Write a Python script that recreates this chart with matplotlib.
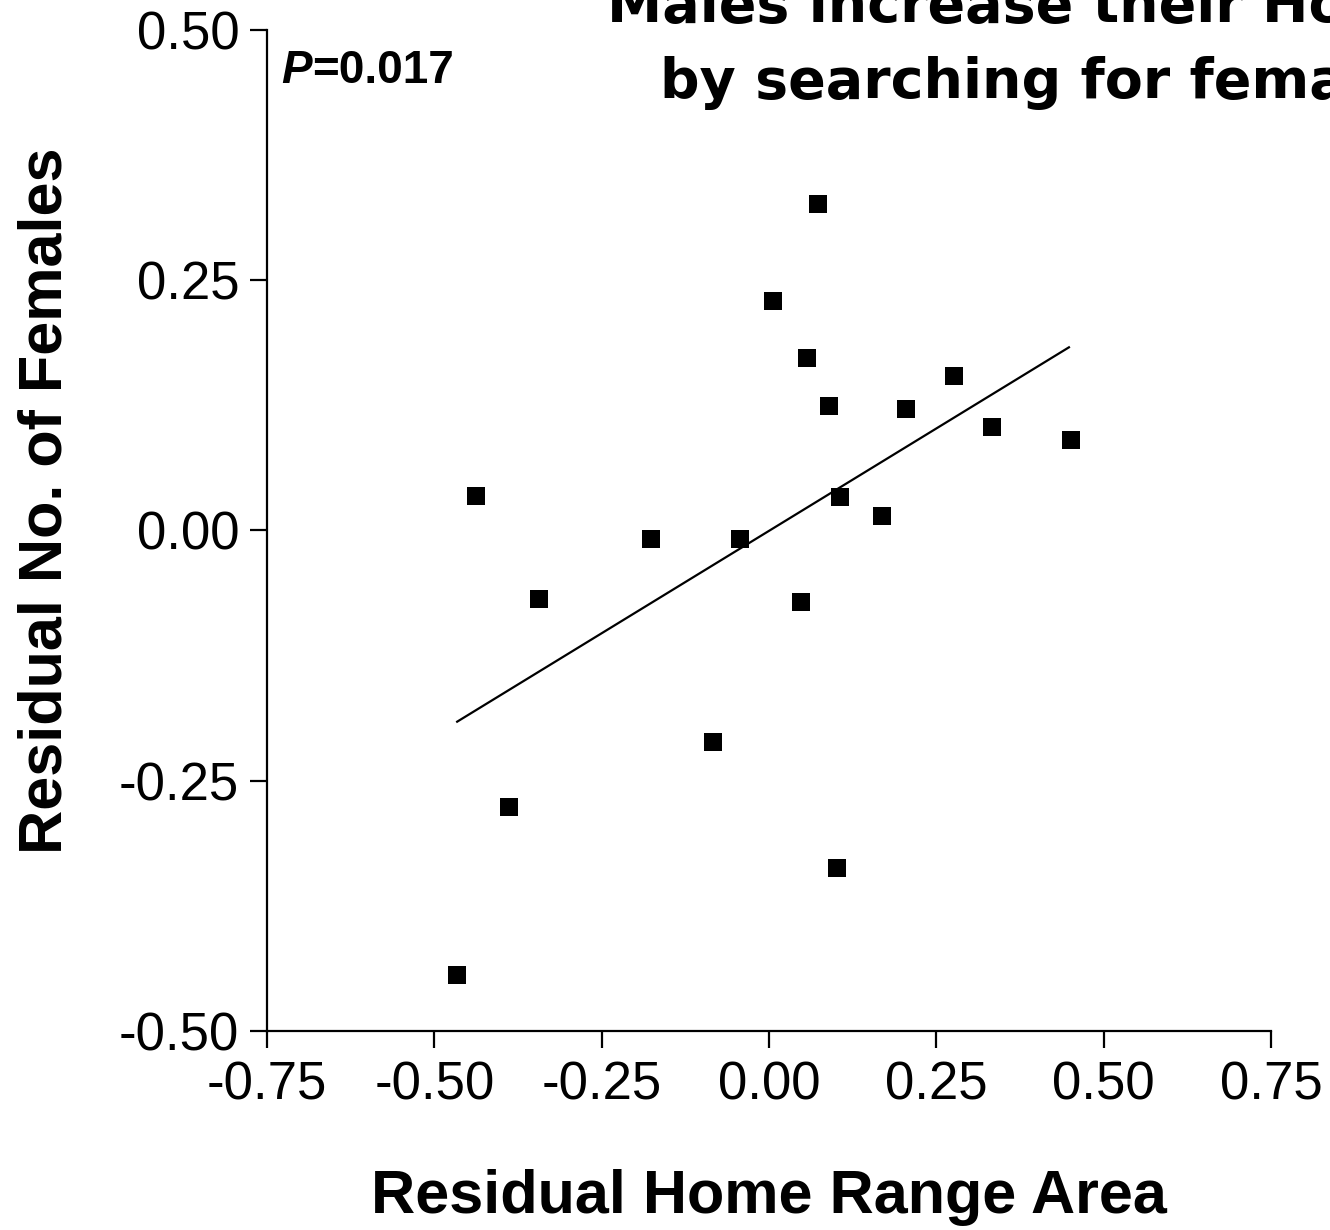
#!/usr/bin/env python3

""" Residual number of females against residual home range area """

import matplotlib
matplotlib.use('Agg')
import matplotlib.pyplot as plt

# Residuals per male
homeRange = [-0.438, -0.344, -0.388, -0.466, -0.176, -0.043, -0.084,
             0.006, 0.073, 0.057, 0.090, 0.048, 0.106, 0.102,
             0.169, 0.205, 0.276, 0.333, 0.451]
nFemales = [0.034, -0.068, -0.276, -0.444, -0.008, -0.008, -0.211,
            0.229, 0.326, 0.172, 0.124, -0.071, 0.033, -0.337,
            0.014, 0.121, 0.154, 0.103, 0.090]

# Fitted regression line
fitX = [-0.466, 0.448]
fitY = [-0.191, 0.183]

xTicks = [-0.75, -0.50, -0.25, 0.00, 0.25, 0.50, 0.75]
yTicks = [-0.50, -0.25, 0.00, 0.25, 0.50]
pLabel = '0.017'


def plotResiduals(out='out.png', dpi=100):
    plt.rcParams.update({'font.family': ['Liberation Sans', 'DejaVu Sans']})
    fig = plt.figure(figsize=(13.3, 12.3))
    ax = fig.add_axes([0.2008, 0.1618, 0.7549, 0.8138])

    ax.plot(homeRange, nFemales, 's', color='black', markersize=13,
            markeredgewidth=0, clip_on=False)
    ax.plot(fitX, fitY, '-', color='black', linewidth=1.6)

    ax.set_xlim(-0.75, 0.75)
    ax.set_ylim(-0.5, 0.5)
    ax.set_xticks(xTicks)
    ax.set_yticks(yTicks)
    ax.set_xticklabels([f'{t:.2f}' for t in xTicks])
    ax.set_yticklabels([f'{t:.2f}' for t in yTicks])
    for side in ['top', 'right']:
        ax.spines[side].set_visible(False)
    for side in ['left', 'bottom']:
        ax.spines[side].set_linewidth(1.6)
    ax.tick_params(axis='both', length=12, width=1.6, labelsize=38)
    ax.tick_params(axis='x', pad=9)
    ax.tick_params(axis='y', pad=8)

    ax.set_xlabel('Residual Home Range Area', fontsize=44, fontweight='bold')
    ax.set_ylabel('Residual No. of Females', fontsize=44, fontweight='bold')
    ax.xaxis.set_label_coords(0.5, -0.138)
    ax.yaxis.set_label_coords(-0.192, 0.530)

    # P value: italic P followed by the number
    pText = ax.text(0.014, 0.947, 'P', transform=ax.transAxes, fontsize=33,
                    fontweight='bold', style='italic', va='baseline')
    ax.annotate(f'={pLabel}', xy=(1, 0), xycoords=pText, fontsize=33,
                fontweight='bold', va='bottom', ha='left')

    # Title runs off the top and right of the page
    fig.text(607, 1230 - 22, 'Males increase their Home Range',
             transform=None, fontsize=40, fontweight='bold',
             family='DejaVu Sans', va='baseline', ha='left')
    fig.text(660, 1230 - 98, 'by searching for females',
             transform=None, fontsize=40, fontweight='bold',
             family='DejaVu Sans', va='baseline', ha='left')

    fig.savefig(out, dpi=dpi)


if __name__ == '__main__':
    plotResiduals()
